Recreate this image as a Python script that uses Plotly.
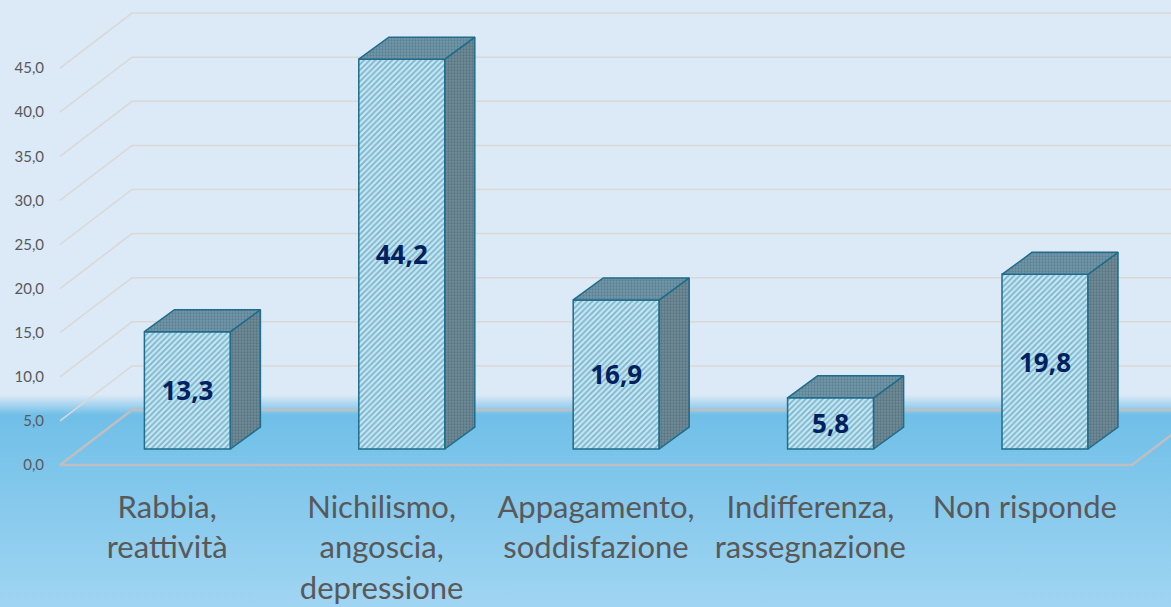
import plotly.graph_objects as go

categories = ["Rabbia,<br>reattività", "Nichilismo,<br>angoscia,<br>depressione", "Appagamento,<br>soddisfazione",
              "Indifferenza,<br>rassegnazione", "Non risponde"]
values = [13.3, 44.2, 16.9, 5.8, 19.8]
y_ticks = [0, 5, 10, 15, 20, 25, 30, 35, 40, 45]

W, H = 1171, 607
PX_X = 214.4      # pixels per category
PX_Y = 8.82       # pixels per value unit
X0_PX, Y0_PX = 60, 465
xr = [-0.5 - X0_PX / PX_X, -0.5 + (W - X0_PX) / PX_X]
yr = [-(H - Y0_PX) / PX_Y, Y0_PX / PX_Y]
DX, DY = 72 / PX_X, 55 / PX_Y          # floor depth
BX, BY = 30 / PX_X, 22 / PX_Y          # bar depth
SX, SY = 20.2 / PX_X, 16 / PX_Y        # bar set-back from front edge
HALF = 43 / PX_X

fig = go.Figure()

# background gradient
frac = lambda py: 1 - py / H
fig.add_trace(go.Scatter(
    x=[xr[0], xr[1], xr[1], xr[0], xr[0]], y=[yr[0], yr[0], yr[1], yr[1], yr[0]],
    mode="lines", line=dict(width=0), fill="toself", hoverinfo="skip", showlegend=False, zorder=0,
    fillgradient=dict(type="vertical", colorscale=[
        [0, "#A0D5F2"], [frac(415), "#70BFE8"], [frac(395), "#DCE9F6"], [1, "#DCE9F6"]]),
))

# wall grid lines
for v in y_ticks[1:]:
    fig.add_trace(go.Scatter(
        x=[-0.5, -0.5 + DX, 4.5 + DX], y=[v, v + DY, v + DY], mode="lines",
        line=dict(color="#D9D8D6", width=1.5), hoverinfo="skip", showlegend=False, zorder=1))
# floor
fig.add_trace(go.Scatter(
    x=[-0.5 + DX, -0.5, 4.5, 4.5 + DX, 4.5 + DX, -0.5 + DX], y=[DY, 0, 0, DY, DY, DY], mode="lines",
    line=dict(color="#BFBFBF", width=2.5), hoverinfo="skip", showlegend=False, zorder=1))

# bars
EDGE = "#1F6C8C"
fig.add_trace(go.Bar(
    x=[i + SX for i in range(5)], y=values, base=[SY] * 5, width=2 * HALF,
    marker=dict(color="#C4E6F3", line=dict(color=EDGE, width=1.5),
                pattern=dict(shape="/", bgcolor="#C4E6F3", fgcolor="#2F7FA0", size=4, solidity=0.4)),
    text=[f"{v:.1f}".replace(".", ",") for v in values], textposition="inside",
    insidetextanchor="middle", textangle=0,
    textfont=dict(family="Open Sans, sans-serif", size=26, color="#002060", weight="bold"),
    hoverinfo="skip", showlegend=False, zorder=2))

for i, v in enumerate(values):
    xl, xr_ = i + SX - HALF, i + SX + HALF
    yb, yt = SY, SY + v
    fig.add_trace(go.Scatter(
        x=[xr_, xr_ + BX, xr_ + BX, xr_, xr_], y=[yb, yb + BY, yt + BY, yt, yb],
        mode="lines", line=dict(color=EDGE, width=1.5), fill="toself", fillcolor="#5F7F8C",
        fillpattern=dict(shape=".", bgcolor="#6F8C98", fgcolor="#3F5C68", size=3, solidity=0.45),
        hoverinfo="skip", showlegend=False, zorder=3))
    fig.add_trace(go.Scatter(
        x=[xl, xr_, xr_ + BX, xl + BX, xl], y=[yt, yt, yt + BY, yt + BY, yt],
        mode="lines", line=dict(color=EDGE, width=1.5), fill="toself", fillcolor="#5F8799",
        fillpattern=dict(shape=".", bgcolor="#7397A8", fgcolor="#3F6B7E", size=3, solidity=0.45),
        hoverinfo="skip", showlegend=False, zorder=3))

fig.update_layout(
    width=W, height=H, margin=dict(l=0, r=0, t=0, b=0, autoexpand=False), autosize=False,
    separators=",.", paper_bgcolor="#DCE9F6", plot_bgcolor="rgba(0,0,0,0)", showlegend=False,
    font=dict(family="Lato, sans-serif", color="#595959"),
    xaxis=dict(range=xr, tickmode="array", tickvals=list(range(5)), ticktext=categories, automargin=False,
               showgrid=False, zeroline=False, showline=False, ticks="", anchor="free",
               position=(H - Y0_PX) / H, tickfont=dict(family="Lato, sans-serif", size=31, color="#595959"),
               ticklabelstandoff=21),
    yaxis=dict(range=yr, tickmode="array", tickvals=y_ticks, ticktext=[f"{t:.1f}".replace(".", ",") for t in y_ticks],
               automargin=False, showgrid=False, zeroline=False, showline=False, ticks="", anchor="free",
               position=X0_PX / W, tickfont=dict(family="Lato, sans-serif", size=15, color="#595959"),
               ticklabelstandoff=16),
)

fig.write_html("out.html", config={"displayModeBar": False},
               post_script="document.body.style.margin='0';document.body.style.overflow='hidden';")
